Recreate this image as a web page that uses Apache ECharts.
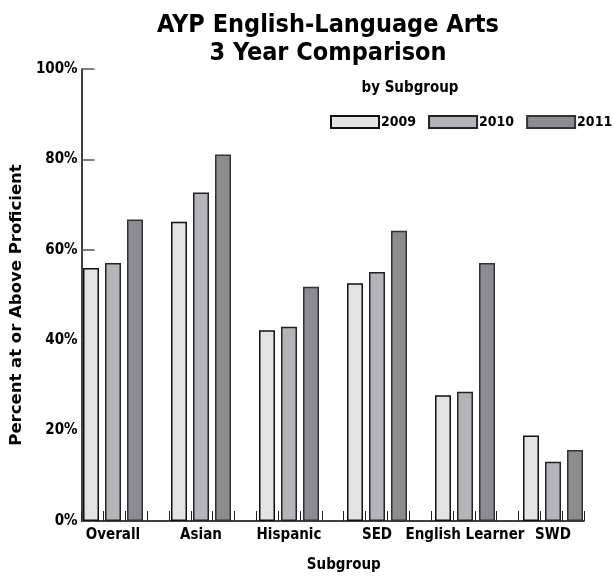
<!DOCTYPE html>
<html><head><meta charset="utf-8">
<script src="https://cdn.jsdelivr.net/npm/echarts@6/dist/echarts.min.js"></script>
<style>html,body{margin:0;padding:0;background:#fff}#c{width:614px;height:582px}</style>
</head><body><div id="c"></div>
<script>
const categories = ['Overall', 'Asian', 'Hispanic', 'SED', 'English Learner', 'SWD'];
const years = ['2009', '2010', '2011'];
const v2009 = [56.0, 66.2, 42.2, 52.6, 27.8, 18.9];
const v2010 = [57.1, 72.7, 43.0, 55.1, 28.6, 13.1];
const v2011 = [66.7, 81.1, 51.8, 64.2, 57.1, 15.7];
const yTicks = [0, 20, 40, 60, 80, 100];
const colors = ['#e2e3e5', '#b3b4b8', '#8b8c90'];
const borders = ['#111', '#222', '#333'];

const NARROW = '"DejaVu Sans Condensed","Liberation Sans Narrow","Arial Narrow",sans-serif';
const chart = echarts.init(document.getElementById('c'));
const seriesVals = [v2009, v2010, v2011];
chart.setOption({
  animation: false,
  title: [
    { text: 'AYP English-Language Arts\n3 Year Comparison', left: 323, top: 6, textAlign: 'center',
      textStyle: { fontFamily: NARROW, fontWeight: 'bold', fontSize: 25, lineHeight: 28, color: '#000' } },
    { text: 'by Subgroup', left: 405, top: 76, textAlign: 'center',
      textStyle: { fontFamily: NARROW, fontWeight: 'bold', fontSize: 15, color: '#000' } }
  ],
  legend: {
    data: years, left: 330, top: 115, width: 300, padding: 0, itemWidth: 48, itemHeight: 12, itemGap: 12,
    icon: 'rect',
    textStyle: { fontFamily: NARROW, fontWeight: 'bold', fontSize: 14, color: '#000', padding: [0, 0, 0, -3] }
  },
  grid: [
    { left: 69, right: 17, top: 69, bottom: 61 },
    { left: 80, right: 30, top: 69, bottom: 61 }
  ],
  xAxis: [
    { type: 'category', gridIndex: 0, data: categories,
      axisLine: { show: false }, axisTick: { show: false },
      axisLabel: { interval: 0, margin: 7, fontFamily: NARROW, fontWeight: 'bold', fontSize: 15, color: '#000' } },
    { type: 'value', gridIndex: 1, min: 0, max: 23, interval: 1,
      axisLine: { show: true, lineStyle: { color: '#000', width: 1.5 } },
      axisTick: { show: true, inside: true, length: 10, lineStyle: { color: '#222', width: 1 } },
      axisLabel: { show: false }, splitLine: { show: false },
      name: 'Subgroup', nameLocation: 'middle', nameGap: 37,
      nameTextStyle: { fontFamily: NARROW, fontWeight: 'bold', fontSize: 15, color: '#000', padding: [0, 0, 0, 22] } }
  ],
  yAxis: [
    { type: 'value', gridIndex: 0, min: 0, max: 100, interval: 20, show: false },
    { type: 'value', gridIndex: 1, min: 0, max: 100, interval: 20,
      axisLine: { show: true, lineStyle: { color: '#000', width: 1.5 } },
      axisTick: { show: true, inside: true, length: 13, lineStyle: { color: '#555', width: 1.5 } },
      splitLine: { show: false },
      axisLabel: { formatter: '{value}%', margin: 4, fontFamily: NARROW, fontWeight: 'bold', fontSize: 15, color: '#000' },
      name: 'Percent at or Above Proficient', nameLocation: 'middle', nameRotate: 90, nameGap: 52,
      nameTextStyle: { fontFamily: '"DejaVu Sans",sans-serif', fontWeight: 'bold', fontSize: 16.5, color: '#000', padding: [0, 0, 0, -20] } }
  ],
  series: years.map((y, i) => ({
    name: y, type: 'bar', xAxisIndex: 0, yAxisIndex: 0,
    data: seriesVals[i], barWidth: 16, barGap: '37.5%',
    itemStyle: { color: colors[i], borderColor: borders[i], borderWidth: 1.5 }
  }))
});
</script></body></html>
